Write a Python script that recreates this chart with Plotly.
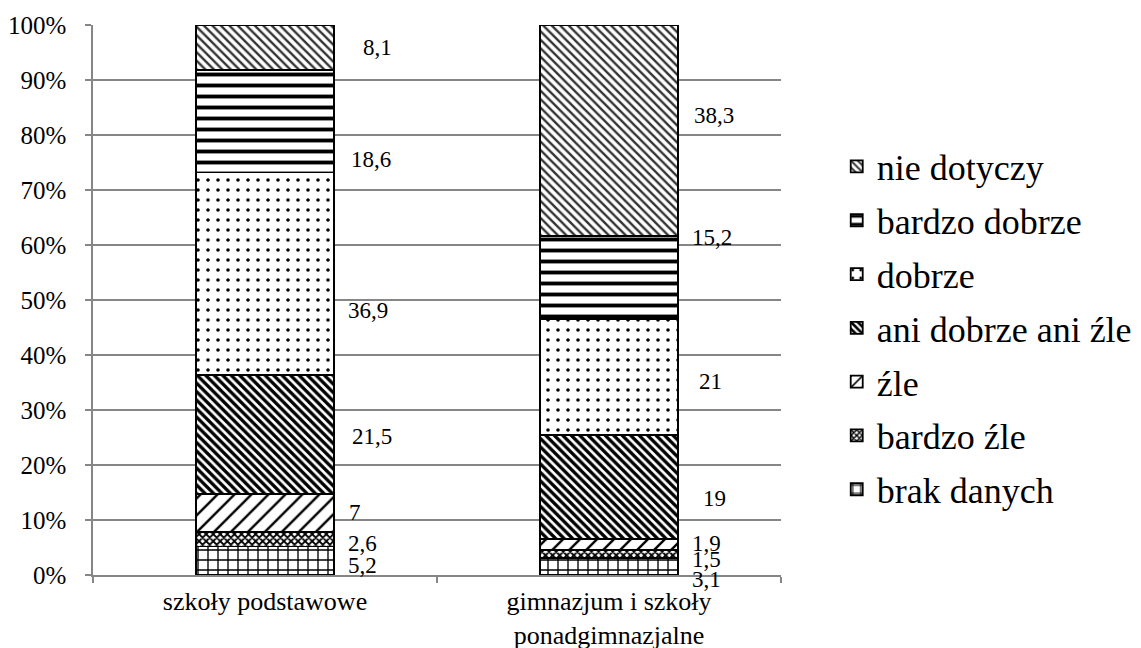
import plotly.graph_objects as go

categories = ["szkoły podstawowe", "gimnazjum i szkoły<br>ponadgimnazjalne"]
series_names = ["brak danych", "bardzo źle", "źle", "ani dobrze ani źle",
                "dobrze", "bardzo dobrze", "nie dotyczy"]
brak_danych = [5.2, 3.1]
bardzo_zle = [2.6, 1.5]
zle = [7, 1.9]
ani_dobrze_ani_zle = [21.5, 19]
dobrze = [36.9, 21]
bardzo_dobrze = [18.6, 15.2]
nie_dotyczy = [8.1, 38.3]
label_texts = [["5,2", "3,1"], ["2,6", "1,5"], ["7", "1,9"], ["21,5", "19"],
               ["36,9", "21"], ["18,6", "15,2"], ["8,1", "38,3"]]
y_ticks = [0, 10, 20, 30, 40, 50, 60, 70, 80, 90, 100]

series_values = [brak_danych, bardzo_zle, zle, ani_dobrze_ani_zle,
                 dobrze, bardzo_dobrze, nie_dotyczy]

# styles
patterns = [
    dict(shape="+", size=10, solidity=0.25, fgcolor="black"),
    dict(shape="x", size=5, solidity=0.6, fgcolor="black"),
    dict(shape="/", size=12, solidity=0.2, fgcolor="black"),
    dict(shape="\\", size=6, solidity=0.55, fgcolor="black"),
    dict(shape=".", size=10, solidity=0.1, fgcolor="black"),
    dict(shape="-", size=11, solidity=0.35, fgcolor="black"),
    dict(shape="\\", size=6, solidity=0.4, fgcolor="#333"),
]
# pixel offsets of the value labels (style only)
label_xshift = [[12, 12], [12, 12], [13, 12], [16, 23], [12, 19], [15, 12], [27, 14]]
label_yshift = [[-5, -13], [-4, -6], [0, 1], [-2, -11], [-37, -4], [-38, 40], [0, 15]]

FONT = "Liberation Serif, Times New Roman, Tinos, DejaVu Serif, serif"
BAR_W = 0.4

fig = go.Figure()
n = len(series_names)
for i, (name, vals, pat) in enumerate(zip(series_names, series_values, patterns)):
    p = dict(pat)
    p["bgcolor"] = "white"
    p["fgopacity"] = 1
    fig.add_trace(go.Bar(
        x=categories, y=vals, name=name, width=BAR_W, legendgroup=name,
        legendrank=n - i,
        marker=dict(color="white", line=dict(color="black", width=1.8), pattern=p),
    ))

# labels positioned by the data (segment centers)
cum = [0.0 for _ in categories]
for si, vals in enumerate(series_values):
    for ci, v in enumerate(vals):
        center = cum[ci] + v / 2
        cum[ci] += v
        fig.add_annotation(
            x=ci + BAR_W / 2, y=center, xref="x", yref="y",
            text=label_texts[si][ci], showarrow=False,
            xanchor="left", yanchor="middle",
            xshift=label_xshift[si][ci], yshift=label_yshift[si][ci],
            font=dict(family=FONT, size=23, color="black"),
        )

# page body adds an 8px margin; the figure is sized to compensate
fig.update_layout(
    barmode="stack",
    width=1133, height=640,
    margin=dict(l=85, r=360, t=17, b=73, autoexpand=False),
    plot_bgcolor="white", paper_bgcolor="white",
    font=dict(family=FONT, color="black"),
    showlegend=True,
    legend=dict(
        traceorder="grouped", tracegroupgap=4,
        x=1.081, xanchor="left", y=0.449, yanchor="middle",
        font=dict(family=FONT, size=36, color="black"),
        bgcolor="rgba(0,0,0,0)",
    ),
    bargap=0.6,
)
fig.update_xaxes(
    type="category", range=[-0.5, 1.5], automargin=False,
    showline=True, linecolor="#868686", linewidth=1.5,
    ticks="outside", tickson="boundaries", ticklen=6, tickcolor="#868686", tickwidth=1.5,
    ticklabelstandoff=2,
    showgrid=False,
    tickfont=dict(family=FONT, size=26, color="black"),
)
fig.update_yaxes(
    range=[0, 100], tickvals=y_ticks, ticktext=[f"{t}%" for t in y_ticks],
    automargin=False,
    showline=True, linecolor="#868686", linewidth=1.5,
    ticks="outside", ticklen=6, tickcolor="#868686", tickwidth=1.5,
    ticklabelstandoff=14,
    showgrid=True, gridcolor="#868686", gridwidth=1.5,
    zeroline=False,
    tickfont=dict(family=FONT, size=25, color="black"),
)

fig.write_html("out.html")
